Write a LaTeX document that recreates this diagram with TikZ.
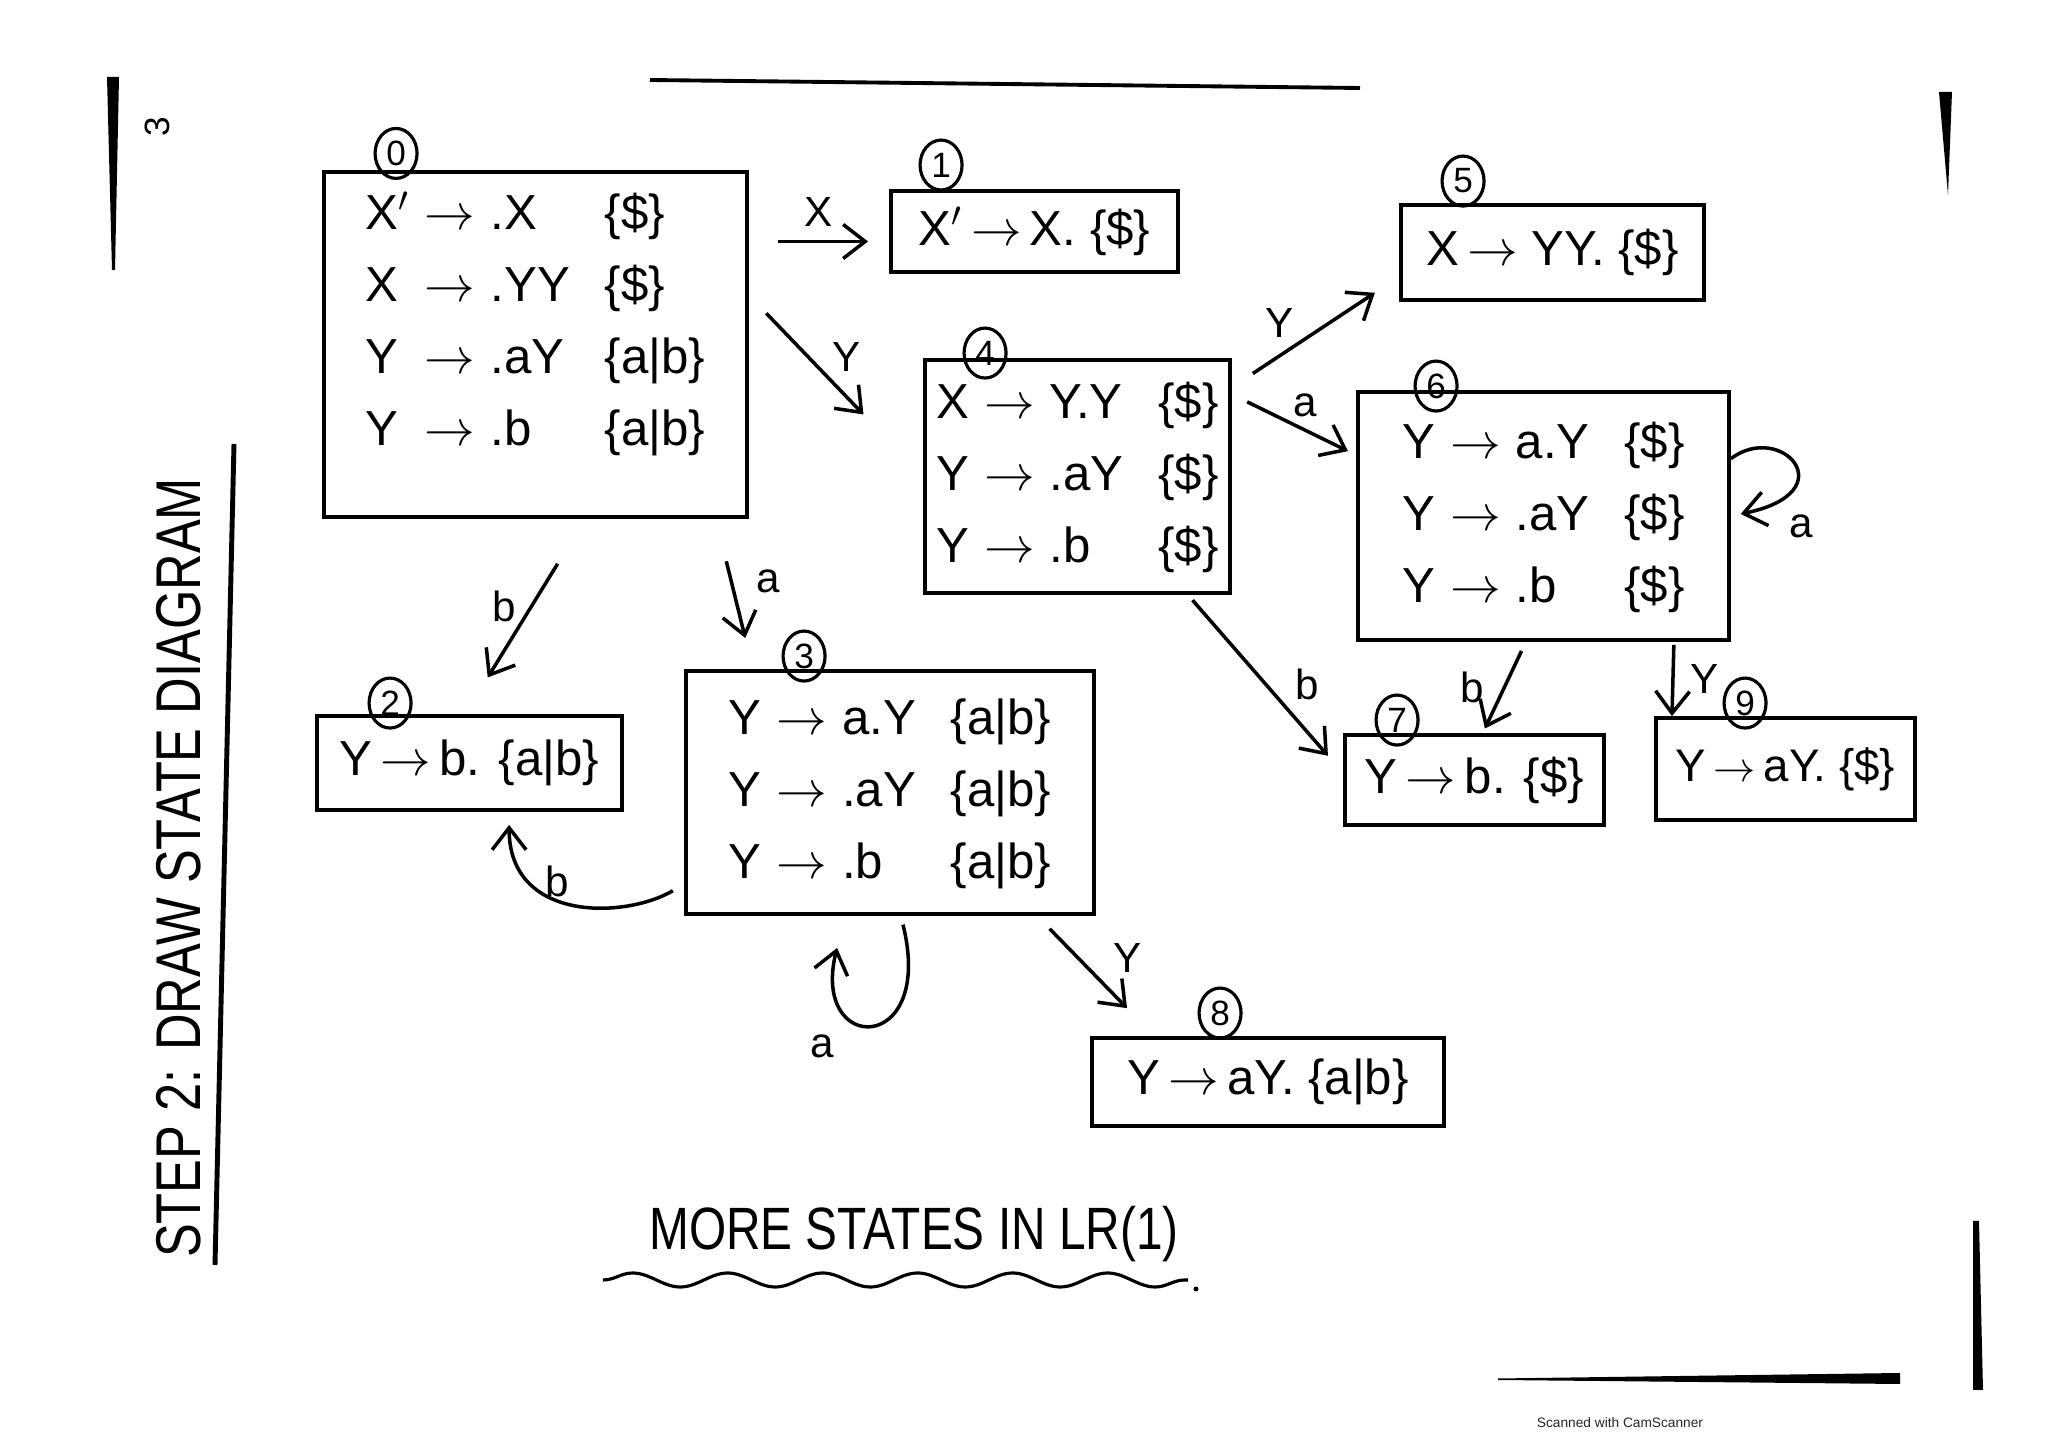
\documentclass[tikz,border=0pt]{standalone}
\usepackage{fontspec}
\setmainfont{Liberation Sans}
\newfontfamily\handfont[FakeStretch=0.8]{Liberation Sans}
\usetikzlibrary{arrows.meta,positioning,shapes.geometric,decorations.pathmorphing}

\newcommand{\tto}{\ensuremath{\rightarrow}}
\newcommand{\itemrow}[3]{#1 & \tto & #2 & \{#3\}}
\newcommand{\itemtab}[1]{\begin{tabular}{@{}l@{\hspace{0.15cm}}c@{\hspace{0.15cm}}l@{\hspace{0.35cm}}l@{}}#1\end{tabular}}

\begin{document}
\begin{tikzpicture}[
  ink/.style={draw=black, line width=1.1pt},
  state/.style={ink, inner sep=2pt, font=\fontsize{14}{20.5}\selectfont},
  num/.style={ellipse, draw=black, line width=0.9pt, minimum width=0.42cm,
    minimum height=0.5cm, inner sep=0pt, font=\fontsize{10}{12}\selectfont},
  arrow/.style={-{Straight Barb[length=2.2mm,width=3.4mm]}, draw=black, line width=1pt},
  lbl/.style={font=\fontsize{12}{14}\selectfont, inner sep=1pt},
  hand/.style={font=\handfont\fontsize{17}{20}\selectfont},
  title/.style={font=\handfont\fontsize{18}{20}\selectfont, rotate=90}
]
\useasboundingbox (0,0) rectangle (20.48,-14.47);

% Page edges of the scan.
\fill (1.07,-0.77) -- (1.19,-0.77) -- (1.15,-2.70) -- (1.12,-2.70) -- cycle;
\node[rotate=90, font=\fontsize{10}{12}\selectfont] (page) at (1.57,-1.27) {3};
\draw[line width=1.1pt] (6.50,-0.80) -- (13.60,-0.88);
\fill (19.39,-0.92) -- (19.52,-0.92) -- (19.48,-1.95) -- cycle;
\fill (19.73,-12.21) -- (19.79,-12.21) -- (19.83,-13.90) -- (19.73,-13.90) -- cycle;
\fill (14.98,-13.785) -- (19.00,-13.73) -- (19.00,-13.84) -- (14.98,-13.80) -- cycle;

% Title.
\node[title] (ttl) at (1.79,-8.68) {STEP 2: DRAW STATE DIAGRAM};
\draw[line width=1.4pt] (2.34,-4.44) -- (2.15,-12.65);

% States.
\node[state, minimum width=4.23cm, minimum height=3.29cm] (s0) at (5.355,-3.445)
  {\itemtab{\itemrow{X$'$}{.X}{\$}\\ \itemrow{X}{.YY}{\$}\\
   \itemrow{Y}{.aY}{a|b}\\ \itemrow{Y}{.b}{a|b}\\[0.42cm]}};
\node[state, minimum width=2.87cm, minimum height=0.81cm] (s1) at (10.345,-2.315)
  {X$'$\,\tto\,X. \{\$\}};
\node[state, minimum width=3.05cm, minimum height=0.94cm] (s2) at (4.695,-7.63)
  {Y\,\tto\,b. \{a|b\}};
\node[state, minimum width=4.08cm, minimum height=2.43cm] (s3) at (8.90,-7.925)
  {\itemtab{\itemrow{Y}{a.Y}{a|b}\\ \itemrow{Y}{.aY}{a|b}\\ \itemrow{Y}{.b}{a|b}}};
\node[state, minimum width=3.05cm, minimum height=2.33cm] (s4) at (10.775,-4.765)
  {\itemtab{\itemrow{X}{Y.Y}{\$}\\ \itemrow{Y}{.aY}{\$}\\ \itemrow{Y}{.b}{\$}}};
\node[state, minimum width=3.03cm, minimum height=0.95cm] (s5) at (15.525,-2.525)
  {X\,\tto\ YY. \{\$\}};
\node[state, minimum width=3.71cm, minimum height=2.48cm] (s6) at (15.435,-5.16)
  {\itemtab{\itemrow{Y}{a.Y}{\$}\\ \itemrow{Y}{.aY}{\$}\\ \itemrow{Y}{.b}{\$}}};
\node[state, minimum width=2.59cm, minimum height=0.90cm] (s7) at (14.745,-7.80)
  {Y\,\tto\,b. \{\$\}};
\node[state, minimum width=3.52cm, minimum height=0.88cm] (s8) at (12.68,-10.82)
  {Y\,\tto\,aY. \{a|b\}};
\node[state, minimum width=2.59cm, minimum height=1.02cm,
  font=\fontsize{13}{16}\selectfont] (s9) at (17.855,-7.69)
  {Y\,\tto\,aY. \{\$\}};

% State numbers.
\node[num] (n0) at ([xshift=0.74cm, yshift=0.17cm]s0.north west) {0};
\node[num] (n1) at ([xshift=0.52cm, yshift=0.24cm]s1.north west) {1};
\node[num] (n2) at ([xshift=0.75cm, yshift=0.11cm]s2.north west) {2};
\node[num] (n3) at ([xshift=1.20cm, yshift=0.13cm]s3.north west) {3};
\node[num] (n4) at ([xshift=0.62cm, yshift=0.05cm]s4.north west) {4};
\node[num] (n5) at ([xshift=0.64cm, yshift=0.22cm]s5.north west) {5};
\node[num] (n6) at ([xshift=0.80cm, yshift=0.04cm]s6.north west) {6};
\node[num] (n7) at ([xshift=0.54cm, yshift=0.13cm]s7.north west) {7};
\node[num] (n8) at ([xshift=1.30cm, yshift=0.23cm]s8.north west) {8};
\node[num] (n9) at ([xshift=0.91cm, yshift=0.13cm]s9.north west) {9};

% Transitions.
\coordinate (ax) at ([yshift=-1mm]s1.west);
\draw[arrow, shorten <=0.29cm, shorten >=0.21cm] (s0.east |- ax) --
  node[lbl, above=0.1cm] (lX) {X} (ax);
\draw[arrow, shorten <=0.25cm, shorten >=0.86cm] (s0.13) --
  node[lbl, pos=0.45, above right] (lY0) {Y} (s4.west);
\draw[arrow, shorten <=0.25cm, shorten >=0.29cm] (s4.30) --
  node[lbl, pos=0.4, above left] (lY4) {Y} (s5.189);
\draw[arrow, shorten <=0.17cm, shorten >=0.09cm] (s4.28) --
  node[lbl, pos=0.45, above right] (la4) {a} (s6.162);
\draw[arrow, shorten >=0.1cm] (s6.17) .. controls +(0.5,0.38) and +(1.16,0.24) .. (s6.east);
\node[lbl] (la6) at ([xshift=0.7cm, yshift=-0.1cm]s6.east) {a};
\draw[arrow, shorten <=0.53cm, shorten >=0.43cm] (s0.-74) --
  node[lbl, pos=0.45, left=0.1cm] (lb0) {b} (s2.95);
\draw[arrow, shorten <=0.44cm, shorten >=0.32cm] (s0.-44) --
  node[lbl, pos=0.42, right=0.2cm] (la0) {a} (s3.138);
\draw[arrow, shorten <=0.13cm, shorten >=0.13cm] (s3.204)
  .. controls +(-0.6,-0.35) and +(0,-1.1) .. node[lbl, above left] (lb3) {b} (s2.-51);
\draw[arrow, shorten <=0.09cm, shorten >=0.33cm] (s3.-85)
  .. controls +(0.35,-1.4) and +(-0.35,-1.4) .. (s3.-110);
\node[lbl] (la3) at ([xshift=-0.68cm, yshift=-1.3cm]s3.south) {a};
\draw[arrow, shorten <=0.18cm, shorten >=0.39cm] (s3.-40) --
  node[lbl, pos=0.35, right=0.3cm] (lY3) {Y} (s8.158);
\draw[arrow, shorten <=0.07cm, shorten >=0.23cm] (s4.-47) --
  node[lbl, right=0.25cm] (lb4) {b} (s7.177);
\draw[arrow, shorten <=0.1cm, shorten >=0.05cm] (s6.-98) --
  node[lbl, left=0.15cm] (lb6) {b} (s7.80);
\draw[arrow, shorten <=0.03cm] (s6.-44) --
  node[lbl, right=0.12cm] (lY6) {Y} (s9.155);

% Footer.
\node[hand] (more) at (9.14,-12.34) {MORE STATES IN LR(1)};
\draw[line width=0.9pt, decorate, decoration={snake, segment length=0.95cm, amplitude=0.07cm}]
  (6.03,-12.80) -- (11.88,-12.80);
\fill (11.96,-12.89) circle (0.025);
\node[font=\fontsize{3.9}{5}\selectfont, text=black!85] (scan) at (16.20,-14.23)
  {Scanned with CamScanner};

\end{tikzpicture}
\end{document}
